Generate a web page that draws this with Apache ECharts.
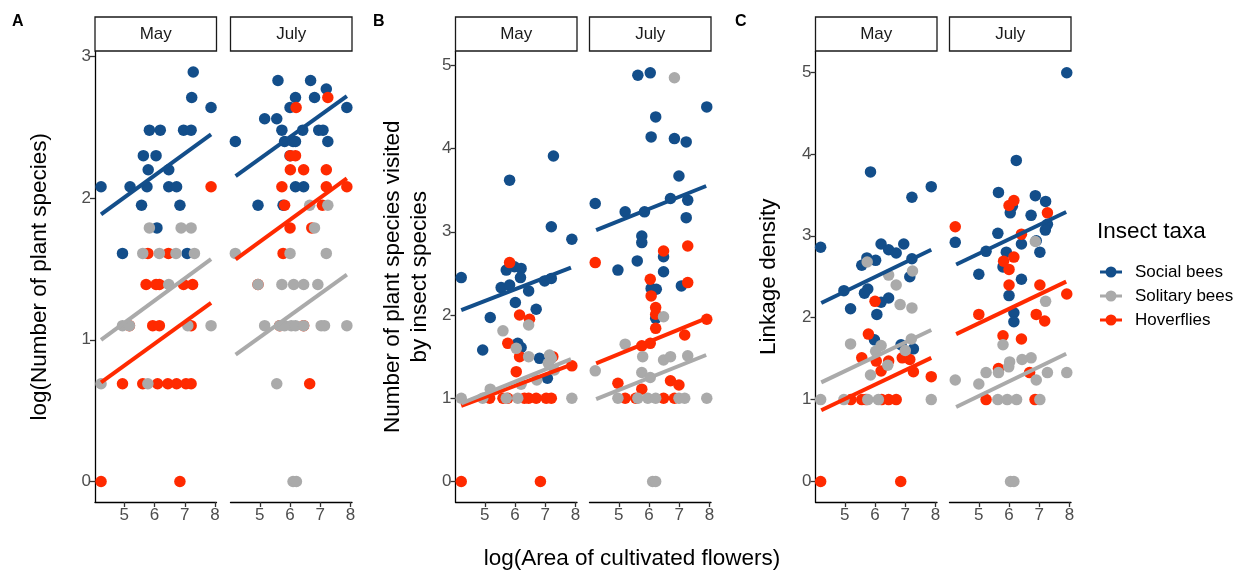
<!DOCTYPE html>
<html><head><meta charset="utf-8">
<script src="https://cdn.jsdelivr.net/npm/echarts@6/dist/echarts.min.js"></script>
<style>html,body{margin:0;padding:0;background:#fff}#c{width:1260px;height:574px}</style>
</head><body><div id="c"></div>
<script>
// ---------------- DATA ----------------
const taxa = ['Social bees', 'Solitary bees', 'Hoverflies'];
const months = ['May', 'July'];
const panelLetters = ['A', 'B', 'C'];
const yTitles = ['log(Number of plant species)', 'Number of plant species visited\nby insect species', 'Linkage density'];
const xTitle = 'log(Area of cultivated flowers)';
const xTicks = [5, 6, 7, 8];
const yTicksA = [0, 1, 2, 3];
const yTicksB = [0, 1, 2, 3, 4, 5];
const yTicksC = [0, 1, 2, 3, 4, 5];

// Panel A: log(Number of plant species)
const A_May_social = [[7.28,2.89],[7.23,2.71],[7.87,2.64],[5.83,2.48],[6.19,2.48],[6.96,2.48],[7.21,2.48],[5.63,2.30],[6.05,2.30],[5.79,2.20],[6.47,2.20],[4.23,2.08],[5.19,2.08],[5.75,2.08],[6.47,2.08],[6.73,2.08],[5.57,1.95],[6.84,1.95],[6.08,1.79],[4.94,1.61],[7.08,1.61]];
const A_May_solitary = [[5.83,1.79],[6.88,1.79],[7.21,1.79],[5.61,1.61],[6.16,1.61],[6.71,1.61],[7.32,1.61],[6.47,1.39],[4.94,1.10],[5.17,1.10],[7.10,1.10],[7.87,1.10],[4.23,0.69],[5.78,0.69]];
const A_May_hover = [[7.87,2.08],[5.78,1.61],[6.46,1.61],[5.72,1.39],[6.05,1.39],[6.16,1.39],[6.96,1.39],[7.26,1.39],[5.17,1.10],[5.94,1.10],[6.16,1.10],[7.21,1.10],[4.94,0.69],[5.61,0.69],[6.10,0.69],[6.44,0.69],[6.73,0.69],[7.04,0.69],[7.21,0.69],[4.23,0],[6.84,0]];
const A_July_social = [[5.60,2.83],[6.68,2.83],[7.20,2.77],[6.18,2.71],[6.81,2.71],[6.00,2.64],[7.88,2.64],[5.16,2.56],[5.56,2.56],[5.73,2.48],[6.42,2.48],[6.95,2.48],[7.09,2.48],[4.19,2.40],[5.82,2.40],[6.10,2.40],[6.18,2.40],[7.25,2.40],[6.00,2.30],[6.18,2.08],[6.45,2.08],[4.94,1.95],[5.77,1.95]];
const A_July_solitary = [[4.19,1.61],[6.00,1.61],[7.20,1.61],[6.65,1.95],[7.25,1.95],[6.81,1.79],[4.94,1.39],[5.73,1.39],[6.12,1.39],[6.45,1.39],[6.92,1.39],[5.16,1.10],[5.66,1.10],[5.82,1.10],[6.04,1.10],[6.18,1.10],[6.45,1.10],[7.03,1.10],[7.14,1.10],[7.88,1.10],[5.56,0.69],[6.10,0],[6.21,0]];
const A_July_hover = [[7.25,2.71],[6.20,2.64],[6.01,2.30],[6.18,2.30],[6.01,2.20],[6.45,2.20],[7.20,2.20],[5.73,2.08],[7.20,2.08],[7.88,2.08],[5.82,1.95],[7.07,1.95],[6.00,1.79],[6.72,1.79],[5.77,1.61],[4.94,1.39],[5.66,1.10],[6.45,1.10],[6.65,0.69]];

// Panel B: Number of plant species visited by insect species
const B_May_social = [[7.27,3.91],[5.82,3.62],[7.20,3.06],[7.88,2.91],[4.22,2.45],[5.71,2.54],[5.98,2.58],[6.20,2.56],[6.18,2.45],[5.54,2.33],[5.82,2.36],[6.45,2.29],[6.98,2.41],[7.20,2.44],[6.01,2.15],[6.70,2.07],[5.18,1.97],[4.93,1.58],[6.09,1.66],[6.20,1.61],[6.81,1.48],[7.07,1.24]];
const B_May_solitary = [[5.60,1.81],[6.45,1.88],[6.45,1.50],[6.04,1.60],[7.14,1.52],[7.20,1.48],[7.10,1.42],[6.72,1.22],[6.20,1.17],[5.18,1.11],[7.30,1.34],[4.22,1.0],[4.93,1.0],[5.71,1.0],[6.09,1.0],[7.88,1.0]];
const B_May_hover = [[5.82,2.63],[6.15,2.00],[6.48,1.95],[5.76,1.66],[6.15,1.50],[6.04,1.32],[7.25,1.50],[7.88,1.39],[5.16,1.0],[5.60,1.0],[5.76,1.0],[6.31,1.0],[6.45,1.0],[6.70,1.0],[7.03,1.0],[7.20,1.0],[4.22,0],[6.84,0]];
const B_July_social = [[5.63,4.88],[6.04,4.91],[7.91,4.50],[6.22,4.38],[6.07,4.14],[6.84,4.12],[7.23,4.08],[6.99,3.67],[4.22,3.34],[5.21,3.24],[5.85,3.24],[6.71,3.40],[7.28,3.38],[7.23,3.17],[5.76,2.95],[5.76,2.87],[6.48,2.70],[5.61,2.65],[4.97,2.54],[6.48,2.52],[6.07,2.32],[6.24,2.31],[7.07,2.35],[6.22,1.96]];
const B_July_solitary = [[6.84,4.85],[6.48,1.98],[5.21,1.65],[5.79,1.50],[6.48,1.46],[6.71,1.50],[7.28,1.51],[4.22,1.33],[5.76,1.31],[6.04,1.25],[4.97,1.0],[5.63,1.0],[5.96,1.0],[6.22,1.0],[6.99,1.0],[7.18,1.0],[7.91,1.0],[6.12,0],[6.22,0]];
const B_July_hover = [[4.22,2.63],[6.48,2.77],[7.28,2.83],[6.04,2.43],[7.28,2.39],[6.07,2.23],[6.22,2.09],[6.22,2.01],[6.22,1.84],[7.91,1.95],[7.18,1.76],[6.04,1.66],[5.76,1.63],[4.97,1.18],[5.76,1.11],[6.71,1.21],[6.99,1.16],[5.21,1.0],[5.56,1.0],[6.48,1.0],[6.84,1.0]];

// Panel C: Linkage density
const C_May_social = [[5.85,3.78],[7.86,3.60],[7.22,3.47],[4.20,2.86],[6.20,2.90],[6.45,2.83],[6.70,2.79],[6.95,2.90],[5.73,2.73],[6.02,2.70],[5.56,2.64],[7.22,2.72],[7.15,2.50],[4.97,2.33],[5.76,2.35],[5.65,2.30],[6.20,2.19],[6.45,2.24],[5.19,2.11],[6.06,2.04],[5.98,1.73],[6.86,1.67],[7.27,1.62]];
const C_May_solitary = [[5.74,2.68],[6.45,2.52],[7.24,2.57],[6.70,2.40],[6.83,2.16],[7.22,2.12],[5.19,1.68],[6.20,1.66],[6.02,1.59],[7.00,1.60],[7.20,1.74],[5.85,1.30],[6.42,1.42],[4.20,1.0],[4.97,1.0],[5.76,1.0],[6.11,1.0],[7.86,1.0]];
const C_May_hover = [[6.00,2.20],[5.78,1.80],[5.56,1.51],[6.04,1.47],[6.45,1.47],[6.90,1.51],[7.15,1.49],[6.20,1.35],[7.27,1.34],[7.86,1.28],[5.20,1.0],[5.56,1.0],[5.70,1.0],[6.22,1.0],[6.45,1.0],[6.70,1.0],[4.20,0],[6.85,0]];
const C_July_social = [[7.91,4.99],[6.24,3.92],[5.65,3.53],[6.87,3.49],[7.21,3.42],[6.11,3.36],[6.04,3.28],[6.73,3.25],[7.27,3.14],[7.20,3.07],[4.22,2.92],[5.63,3.03],[6.41,2.90],[6.90,2.94],[5.24,2.81],[5.91,2.80],[7.02,2.80],[5.80,2.62],[5.00,2.53],[6.41,2.47],[6.00,2.27],[6.16,2.06],[6.16,1.95]];
const C_July_solitary = [[6.87,2.93],[7.21,2.20],[5.80,1.67],[6.02,1.46],[6.43,1.49],[6.73,1.51],[5.24,1.33],[5.65,1.33],[5.99,1.40],[4.22,1.24],[5.00,1.19],[6.90,1.24],[7.27,1.33],[7.91,1.33],[5.63,1.0],[5.94,1.0],[6.25,1.0],[7.02,1.0],[6.05,0],[6.16,0]];
const C_July_hover = [[4.22,3.11],[6.16,3.43],[6.00,3.37],[7.27,3.28],[6.41,3.02],[6.16,2.74],[5.82,2.69],[6.00,2.59],[6.00,2.40],[7.02,2.40],[7.91,2.29],[5.00,2.04],[6.90,2.04],[7.18,1.96],[5.80,1.78],[6.41,1.74],[5.65,1.38],[6.68,1.33],[5.24,1.0],[6.86,1.0]];

// Fitted regression lines (start, end)
const A_May_fit = {social: [[4.23,1.885],[7.87,2.45]], solitary: [[4.23,1.00],[7.87,1.57]], hover: [[4.23,0.70],[7.87,1.26]]};
const A_July_fit = {social: [[4.20,2.155],[7.88,2.72]], solitary: [[4.20,0.896],[7.88,1.46]], hover: [[4.20,1.567],[7.88,2.14]]};
const B_May_fit = {social: [[4.22,2.06],[7.85,2.57]], solitary: [[4.22,0.94],[7.85,1.47]], hover: [[4.22,0.91],[7.85,1.40]]};
const B_July_fit = {social: [[4.25,3.02],[7.89,3.55]], solitary: [[4.25,0.99],[7.89,1.52]], hover: [[4.25,1.42],[7.89,1.96]]};
const C_May_fit = {social: [[4.22,2.18],[7.86,2.83]], solitary: [[4.22,1.21],[7.86,1.85]], hover: [[4.22,0.87],[7.86,1.51]]};
const C_July_fit = {social: [[4.25,2.65],[7.89,3.29]], solitary: [[4.25,0.91],[7.89,1.56]], hover: [[4.25,1.80],[7.89,2.44]]};

// ---------------- LAYOUT / STYLE ----------------
const FONT = 'Liberation Sans, Arial, Helvetica, sans-serif';
const colors = {'Social bees': '#134e8a', 'Solitary bees': '#aaaaaa', 'Hoverflies': '#ff2a00'};
const keyOf = {'Social bees': 'social', 'Solitary bees': 'solitary', 'Hoverflies': 'hover'};
const drawOrder = ['Social bees', 'Hoverflies', 'Solitary bees'];
const GRID_TOP = 51.5, GRID_H = 450.5, GRID_W = 121.5;
const panels = [
  {lefts: [95, 230.5], yMin: -0.145, yMax: 3.035, yTicks: yTicksA, nameGap: 42,
   data: [{social: A_May_social, solitary: A_May_solitary, hover: A_May_hover, fit: A_May_fit},
          {social: A_July_social, solitary: A_July_solitary, hover: A_July_hover, fit: A_July_fit}]},
  {lefts: [455.5, 589.5], yMin: -0.246, yMax: 5.166, yTicks: yTicksB, nameGap: 22,
   data: [{social: B_May_social, solitary: B_May_solitary, hover: B_May_hover, fit: B_May_fit},
          {social: B_July_social, solitary: B_July_solitary, hover: B_July_hover, fit: B_July_fit}]},
  {lefts: [815.5, 949.5], yMin: -0.25, yMax: 5.25, yTicks: yTicksC, nameGap: 33,
   data: [{social: C_May_social, solitary: C_May_solitary, hover: C_May_hover, fit: C_May_fit},
          {social: C_July_social, solitary: C_July_solitary, hover: C_July_hover, fit: C_July_fit}]}
];
const panelLetterX = [12, 373, 735];

const grid = [], xAxis = [], yAxis = [], series = [], graphic = [];
let idx = 0;
panels.forEach((p, pi) => {
  p.lefts.forEach((left, mi) => {
    grid.push({left: left, top: GRID_TOP, width: GRID_W, height: GRID_H, containLabel: false});
    xAxis.push({
      type: 'value', gridIndex: idx, min: 4.03, max: 8.05,
      axisLine: {show: true, onZero: false, lineStyle: {color: '#000', width: 1.3}},
      axisTick: {show: true, length: 5, customValues: xTicks, lineStyle: {color: '#333', width: 1.3}},
      axisLabel: {show: true, customValues: xTicks, color: '#4d4d4d', fontSize: 17, fontFamily: FONT, margin: 5},
      splitLine: {show: false}
    });
    const isFirst = mi === 0;
    yAxis.push({
      type: 'value', gridIndex: idx, min: p.yMin, max: p.yMax, show: isFirst,
      name: isFirst ? yTitles[pi] : '', nameLocation: 'middle', nameGap: p.nameGap, nameRotate: 90,
      nameTextStyle: {color: '#000', fontSize: 22.5, fontFamily: FONT, lineHeight: 27},
      axisLine: {show: true, onZero: false, lineStyle: {color: '#000', width: 1.3}},
      axisTick: {show: true, length: 5, customValues: p.yTicks, lineStyle: {color: '#333', width: 1.3}},
      axisLabel: {show: true, customValues: p.yTicks, color: '#4d4d4d', fontSize: 17, fontFamily: FONT, margin: 4},
      splitLine: {show: false}
    });
    const d = p.data[mi];
    drawOrder.forEach(t => {
      series.push({
        type: 'scatter', name: t, xAxisIndex: idx, yAxisIndex: idx,
        data: d[keyOf[t]], symbol: 'circle', symbolSize: 11.5,
        itemStyle: {color: colors[t], opacity: 1}, z: 2, clip: false,
        emphasis: {disabled: true}
      });
    });
    drawOrder.forEach(t => {
      series.push({
        type: 'line', name: t + ' fit', xAxisIndex: idx, yAxisIndex: idx,
        data: d.fit[keyOf[t]], showSymbol: false, symbol: 'none',
        lineStyle: {color: colors[t], width: 4, cap: 'butt'}, z: 3,
        emphasis: {disabled: true}, silent: true
      });
    });
    // strip
    graphic.push({type: 'rect', shape: {x: left, y: 17, width: GRID_W, height: 34},
      style: {fill: '#fff', stroke: '#1a1a1a', lineWidth: 1.3}, z: 10});
    graphic.push({type: 'text', x: left + GRID_W / 2, y: 34, z: 11,
      style: {text: months[mi], fill: '#1a1a1a', font: '17px ' + FONT, textAlign: 'center', textVerticalAlign: 'middle'}});
    idx++;
  });
  graphic.push({type: 'text', x: panelLetterX[pi], y: 22, z: 11,
    style: {text: panelLetters[pi], fill: '#000', font: 'bold 16px ' + FONT, textAlign: 'left', textVerticalAlign: 'middle'}});
});
graphic.push({type: 'text', x: 632, y: 559, z: 11,
  style: {text: xTitle, fill: '#000', font: '22.5px ' + FONT, textAlign: 'center', textVerticalAlign: 'middle'}});
graphic.push({type: 'text', x: 1097, y: 232, z: 11,
  style: {text: 'Insect taxa', fill: '#000', font: '22.5px ' + FONT, textAlign: 'left', textVerticalAlign: 'middle'}});

const keyIcon = 'path://M0,4.5 L22,4.5 L22,7.5 L0,7.5 Z M5.5,6 A5.5,5.5 0 1,1 16.5,6 A5.5,5.5 0 1,1 5.5,6 Z';

const option = {
  animation: false,
  backgroundColor: '#fff',
  grid: grid, xAxis: xAxis, yAxis: yAxis, series: series, graphic: graphic,
  legend: {
    data: taxa.map(t => ({name: t, icon: keyIcon})),
    orient: 'vertical', left: 1095, top: 258.5,
    itemWidth: 22, itemHeight: 12, itemGap: 7,
    selectedMode: false,
    textStyle: {color: '#000', fontSize: 17, fontFamily: FONT, lineHeight: 17, padding: [0, 0, 0, 8]}
  }
};
const chart = echarts.init(document.getElementById('c'), null, {renderer: 'canvas'});
chart.setOption(option);
</script>
</body></html>
